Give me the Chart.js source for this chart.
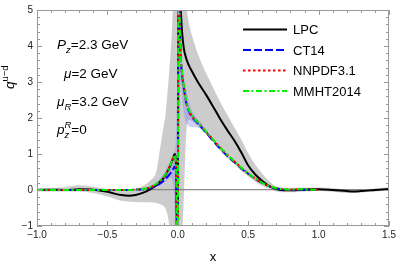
<!DOCTYPE html>
<html>
<head>
<meta charset="utf-8">
<script src="https://cdn.jsdelivr.net/npm/chart.js@4.4.0/dist/chart.umd.min.js"></script>
<style>
  html, body { margin: 0; padding: 0; background: #fff; }
  #wrap { width: 399px; height: 266px; }
</style>
</head>
<body>
<div id="wrap"><canvas id="qpdf-chart" width="399" height="266"></canvas></div>
<script>
// curves are split at x = 0 where they blow up
const xLeft = [-1, -0.9, -0.8, -0.7, -0.6, -0.5, -0.45, -0.4, -0.35, -0.3, -0.25, -0.2, -0.15, -0.12, -0.1, -0.08, -0.06, -0.045, -0.035, -0.028, -0.022, -0.012, -0.004];
const lpcLeft = [0.0, 0.01, 0.0, 0.02, 0.01, -0.05, -0.1, -0.14, -0.16, -0.14, -0.08, 0.01, 0.14, 0.25, 0.34, 0.47, 0.62, 0.76, 0.87, 0.95, 1.0, 0.6, -2];
const ct14Left = [0, 0, 0, 0, 0, 0, 0, 0, 0, 0.01, 0.02, 0.05, 0.13, 0.2, 0.26, 0.34, 0.43, 0.51, 0.57, 0.62, 0.65, 0.45, -2];
const nnpdfLeft = [0, 0, 0, 0, 0, 0, 0, 0, 0, 0.01, 0.03, 0.07, 0.17, 0.27, 0.36, 0.48, 0.63, 0.76, 0.85, 0.92, 0.96, 0.6, -2];
const mmhtLeft = [0, 0, 0, 0, 0, 0, 0, 0, 0, 0.01, 0.03, 0.07, 0.18, 0.28, 0.37, 0.49, 0.64, 0.77, 0.86, 0.93, 0.97, 0.6, -2];

const xRight = [0.001, 0.003, 0.008, 0.013, 0.02, 0.03, 0.042, 0.06, 0.08, 0.1, 0.125, 0.15, 0.2, 0.25, 0.3, 0.35, 0.4, 0.45, 0.5, 0.55, 0.6, 0.65, 0.7, 0.75, 0.8, 0.85, 0.9, 0.95, 1.0, 1.1, 1.2, 1.25, 1.3, 1.4, 1.5];
const lpcRight = [-2, 7, 6.5, 5.8, 5.1, 4.4, 3.95, 3.65, 3.45, 3.3, 3.12, 2.95, 2.65, 2.32, 1.98, 1.67, 1.38, 1.05, 0.68, 0.43, 0.25, 0.11, 0.03, -0.01, -0.01, 0.0, 0.01, 0.02, 0.02, 0.0, -0.03, -0.04, -0.03, 0.0, 0.03];
// PDF fits stop at x = 1
const ct14Right = [-2, 7, 6, 4.7, 3.75, 3.2, 2.85, 2.42, 2.18, 2.03, 1.92, 1.82, 1.6, 1.37, 1.15, 0.95, 0.78, 0.6, 0.45, 0.31, 0.19, 0.1, 0.04, 0.01, 0.0, 0.01, 0.01, 0.0, 0.0];
const nnpdfRight = [-2, 7, 6, 4.8, 3.8, 3.25, 2.9, 2.45, 2.2, 2.05, 1.95, 1.85, 1.62, 1.4, 1.18, 0.98, 0.8, 0.62, 0.46, 0.32, 0.2, 0.11, 0.05, 0.02, 0.01, 0.02, 0.02, 0.01, 0.0];
const mmhtRight = [-2, 7, 6, 4.8, 3.8, 3.25, 2.9, 2.46, 2.21, 2.06, 1.95, 1.85, 1.62, 1.4, 1.18, 0.98, 0.8, 0.62, 0.46, 0.32, 0.2, 0.11, 0.05, 0.02, 0.01, 0.02, 0.02, 0.01, 0.0];

// LPC error band (gray)
const lpcBandXLeft = [-1, -0.9, -0.8, -0.7, -0.6, -0.5, -0.4, -0.3, -0.2, -0.15, -0.134, -0.1, -0.087, -0.063, -0.05, -0.04, -0.03, -0.001];
const lpcBandLeftHi = [0.04, 0.05, 0.08, 0.13, 0.09, 0.03, -0.01, 0.03, 0.25, 0.55, 0.95, 1.8, 2.1, 3.2, 3.9, 4.6, 5.6, 7];
const lpcBandLeftLo = [-0.04, -0.04, -0.04, -0.04, -0.08, -0.18, -0.3, -0.33, -0.34, -0.36, -0.38, -0.45, -0.52, -0.94, -1.6, -2, -2, -2];
const lpcBandXRight = [0.001, 0.02, 0.03, 0.045, 0.06, 0.08, 0.1, 0.15, 0.2, 0.25, 0.3, 0.35, 0.4, 0.45, 0.5, 0.55, 0.6, 0.65, 0.7, 0.8, 0.9, 1.0, 1.1, 1.2, 1.3, 1.4, 1.5];
const lpcBandRightHi = [7, 7, 6.5, 5.6, 5.1, 4.6, 4.3, 3.7, 3.25, 2.85, 2.45, 2.1, 1.75, 1.4, 1.02, 0.7, 0.45, 0.24, 0.1, 0.06, 0.06, 0.07, 0.05, 0.02, 0.02, 0.04, 0.07];
const lpcBandRightLo = [-2, -2, -1.3, 0.0, 1.6, 1.95, 1.92, 1.75, 1.55, 1.33, 1.1, 0.9, 0.72, 0.54, 0.38, 0.23, 0.11, 0.04, -0.04, -0.06, -0.04, -0.03, -0.05, -0.08, -0.07, -0.04, -0.02];

// PDF uncertainty band (light blue)
const pdfBandXLeft = [-0.3, -0.2, -0.15, -0.1, -0.07, -0.05, -0.035, -0.025, -0.015, -0.006, -0.001];
const pdfBandLeftHi = [0.02, 0.1, 0.22, 0.45, 0.68, 0.85, 0.95, 1.05, 1.3, 3, 7];
const pdfBandLeftLo = [0.0, 0.02, 0.08, 0.2, 0.3, 0.33, 0.2, -0.3, -1.5, -2, -2];
const pdfBandXRight = [0.001, 0.02, 0.035, 0.05, 0.07, 0.1, 0.13, 0.16, 0.2, 0.25];
const pdfBandRightHi = [7, 4.6, 3.45, 3.0, 2.6, 2.22, 2.03, 1.9, 1.68, 1.43];
const pdfBandRightLo = [-2, 3.0, 2.4, 2.0, 1.8, 1.75, 1.74, 1.7, 1.56, 1.36];

const seriesNames = ['LPC', 'CT14', 'NNPDF3.1', 'MMHT2014'];
const xTickValues = [-1, -0.5, 0, 0.5, 1, 1.5];
const yTickValues = [-1, 0, 1, 2, 3, 4, 5];

const FONT = '"Liberation Sans", Arial, sans-serif';
const seriesStyle = [
  { color: '#000000', dash: [] },
  { color: '#0000ff', dash: [8, 3] },
  { color: '#ff0000', dash: [2.5, 2.5] },
  { color: '#00f000', dash: [6, 2.5, 2, 2.5] },
];

const pts = (xs, ys) => ys.map((y, i) => ({ x: xs[i], y: y }));

function curve(idx, data) {
  const s = seriesStyle[idx];
  return {
    label: seriesNames[idx],
    data: data,
    borderColor: s.color,
    borderWidth: 2,
    borderDash: s.dash,
    pointRadius: 0,
    fill: false,
    cubicInterpolationMode: 'monotone',
    order: 4 - idx,
  };
}

function band(xs, hi, lo, color, order) {
  const common = { pointRadius: 0, borderWidth: 0, borderColor: 'rgba(0,0,0,0)', cubicInterpolationMode: 'monotone', order: order };
  return [
    Object.assign({ data: pts(xs, hi), backgroundColor: color, fill: '+1' }, common),
    Object.assign({ data: pts(xs, lo), fill: false }, common),
  ];
}

const GRAY_BAND = 'rgba(128,128,128,0.4)';
const BLUE_BAND = 'rgba(120,120,255,0.35)';

const datasets = [
  ...band(lpcBandXLeft, lpcBandLeftHi, lpcBandLeftLo, GRAY_BAND, 10),
  ...band(lpcBandXRight, lpcBandRightHi, lpcBandRightLo, GRAY_BAND, 10),
  ...band(pdfBandXLeft, pdfBandLeftHi, pdfBandLeftLo, BLUE_BAND, 9),
  ...band(pdfBandXRight, pdfBandRightHi, pdfBandRightLo, BLUE_BAND, 9),
  curve(0, pts(xLeft, lpcLeft)),
  curve(0, pts(xRight, lpcRight)),
  curve(1, pts(xLeft, ct14Left)),
  curve(1, pts(xRight, ct14Right)),
  curve(2, pts(xLeft, nnpdfLeft)),
  curve(2, pts(xRight, nnpdfRight)),
  curve(3, pts(xLeft, mmhtLeft)),
  curve(3, pts(xRight, mmhtRight)),
];

// draws rich text (sub/superscripts) left to right
function drawRich(ctx, x, y, parts) {
  parts.forEach(p => {
    const small = p.sub || p.sup;
    ctx.font = (p.it ? 'italic ' : '') + (small ? 9.5 : 13.5) + 'px ' + FONT;
    const dy = p.sub ? 4 : p.sup ? -6 : 0;
    ctx.fillText(p.t, x, y + dy);
    if (!p.stack) x += ctx.measureText(p.t).width;
  });
}

const frameAndText = {
  id: 'frameAndText',
  afterDraw(chart) {
    const { ctx, chartArea: a } = chart;
    const sx = chart.scales.x, sy = chart.scales.y;
    ctx.save();

    // frame with inward ticks on all sides
    ctx.strokeStyle = '#999';
    ctx.lineWidth = 1;
    ctx.setLineDash([]);
    ctx.strokeRect(a.left + 0.5, a.top + 0.5, a.width - 1, a.height - 1);
    ctx.beginPath();
    for (let i = -10; i <= 15; i++) {
      const px = Math.round(sx.getPixelForValue(i / 10)) + 0.5;
      const len = i % 5 === 0 ? 5 : 3;
      ctx.moveTo(px, a.bottom); ctx.lineTo(px, a.bottom - len);
      ctx.moveTo(px, a.top); ctx.lineTo(px, a.top + len);
    }
    for (let i = -5; i <= 25; i++) {
      const py = Math.round(sy.getPixelForValue(i / 5)) + 0.5;
      const len = i % 5 === 0 ? 5 : 3;
      ctx.moveTo(a.left, py); ctx.lineTo(a.left + len, py);
      ctx.moveTo(a.right, py); ctx.lineTo(a.right - len, py);
    }
    ctx.stroke();

    // axis titles
    ctx.fillStyle = '#000';
    ctx.textBaseline = 'alphabetic';
    ctx.textAlign = 'center';
    ctx.font = '13px ' + FONT;
    ctx.fillText('x', (a.left + a.right) / 2, 261);
    ctx.textAlign = 'left';
    ctx.save();
    ctx.translate(14, 89);
    ctx.rotate(-Math.PI / 2);
    drawRich(ctx, 0, 0, [{ t: 'q', it: true }, { t: 'u\u2212d', sup: true }]);
    ctx.restore();

    // parameter notes
    drawRich(ctx, 57, 49, [{ t: 'P', it: true }, { t: 'z', it: true, sub: true }, { t: '=2.3 GeV' }]);
    drawRich(ctx, 64, 78, [{ t: '\u03bc', it: true }, { t: '=2 GeV' }]);
    drawRich(ctx, 57, 106, [{ t: '\u03bc', it: true }, { t: 'R', it: true, sub: true }, { t: '=3.2 GeV' }]);
    drawRich(ctx, 57, 134, [{ t: 'p', it: true }, { t: 'z', it: true, sub: true, stack: true }, { t: 'R', it: true, sup: true }, { t: '=0' }]);

    // legend
    const rows = [29.5, 50, 70.5, 91];
    seriesNames.forEach((name, i) => {
      const s = seriesStyle[i];
      ctx.strokeStyle = s.color;
      ctx.lineWidth = 2.2;
      ctx.setLineDash(s.dash);
      ctx.beginPath();
      ctx.moveTo(243, rows[i]);
      ctx.lineTo(287, rows[i]);
      ctx.stroke();
      ctx.setLineDash([]);
      ctx.fillStyle = '#000';
      ctx.textBaseline = 'middle';
      ctx.font = '13px ' + FONT;
      ctx.fillText(name, 293, rows[i] + 1);
    });
    ctx.restore();
  }
};

const fmtMinus = (v, d) => (v < 0 ? '\u2212' : '') + Math.abs(v).toFixed(d);

new Chart(document.getElementById('qpdf-chart'), {
  type: 'line',
  data: { datasets: datasets },
  options: {
    responsive: false,
    animation: false,
    devicePixelRatio: 1,
    layout: { padding: { top: 5, right: 7, left: 0, bottom: 0 } },
    plugins: { legend: { display: false }, tooltip: { enabled: false } },
    scales: {
      x: {
        type: 'linear',
        min: -1, max: 1.5,
        afterBuildTicks: s => { s.ticks = xTickValues.map(v => ({ value: v })); },
        afterFit: s => { s.height = 40; },
        ticks: { callback: v => fmtMinus(v, 1), color: '#222', font: { size: 10, family: FONT }, padding: 3, maxRotation: 0 },
        grid: { display: false, drawTicks: false },
        border: { display: false },
      },
      y: {
        type: 'linear',
        min: -1, max: 5,
        afterBuildTicks: s => { s.ticks = yTickValues.map(v => ({ value: v })); },
        afterFit: s => { s.width = 37; },
        ticks: { callback: v => fmtMinus(v, 0), color: '#222', font: { size: 10, family: FONT }, padding: 4 },
        grid: {
          drawTicks: false,
          color: c => (c.tick && c.tick.value === 0 ? '#8a8a8a' : 'rgba(0,0,0,0)'),
          lineWidth: 1.3,
        },
        border: { display: false },
      },
    },
  },
  plugins: [frameAndText],
});
</script>
</body>
</html>
